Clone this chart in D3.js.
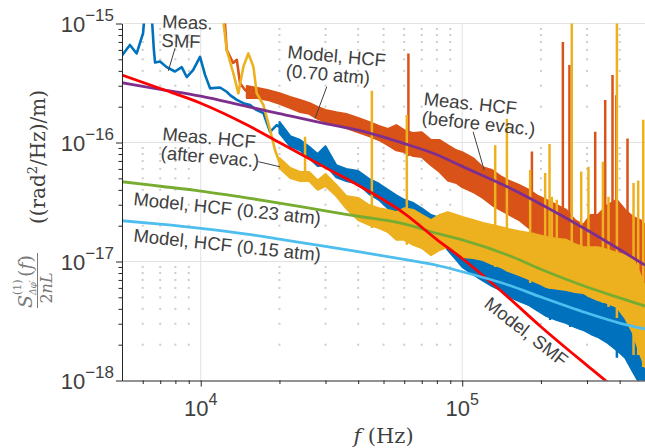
<!DOCTYPE html>
<html>
<head>
<meta charset="utf-8">
<script src="https://cdn.jsdelivr.net/npm/d3@7"></script>
<style>
  html, body { margin: 0; padding: 0; background: #fff; }
  svg { display: block; font-family: "Liberation Sans", Arial, sans-serif; }
</style>
</head>
<body>
<div id="chart"></div>
<script>
// ========== DATA (f in Hz, PSD in (rad^2/Hz)/m) ==========

// model curves
const modelFreq = [5000, 7000, 10000, 15000, 20000, 30000, 40000, 60000, 80000, 100000, 150000, 200000, 300000, 400000, 500000];
const modelSmf  = [3.69e-16, 2.84e-16, 2.14e-16, 1.41e-16, 1.0e-16, 6.15e-17, 4.38e-17, 2.54e-17, 1.53e-17, 1.06e-17, 5.0e-18, 2.83e-18, 1.34e-18, 0.8e-18, 0.55e-18];
const modelHcf070 = [3.18e-16, 2.8e-16, 2.45e-16, 2.01e-16, 1.75e-16, 1.44e-16, 1.27e-16, 9.8e-17, 7.9e-17, 6.3e-17, 4.2e-17, 3.03e-17, 1.84e-17, 1.26e-17, 9.3e-18];
const modelHcf023 = [4.68e-17, 4.29e-17, 3.91e-17, 3.43e-17, 3.1e-17, 2.66e-17, 2.4e-17, 2.07e-17, 1.72e-17, 1.52e-17, 1.13e-17, 8.6e-18, 6.1e-18, 4.95e-18, 4.22e-18];
const modelHcf015 = [2.2e-17, 2.06e-17, 1.9e-17, 1.7e-17, 1.54e-17, 1.34e-17, 1.21e-17, 1.04e-17, 9.3e-18, 8.2e-18, 6.35e-18, 5.03e-18, 3.69e-18, 3.04e-18, 2.71e-18];

// measured spectra, low-frequency part (single trace)
const smfLow = [[5000, 5.4e-16], [5360, 6.6e-16], [5690, 5.6e-16], [6020, 8.3e-16], [6150, 1.5e-15], [6450, 1.5e-15], [6620, 6.0e-16],
  [6690, 4.7e-16], [6990, 4.8e-16], [7410, 4.3e-16], [7970, 3.95e-16], [8460, 4.3e-16], [8840, 3.55e-16], [9350, 4.05e-16],
  [9940, 5.25e-16], [10390, 3.7e-16], [10860, 2.85e-16], [11850, 2.9e-16], [12570, 2.67e-16], [12950, 2.5e-16], [13740, 2.28e-16],
  [14560, 2.14e-16], [15440, 2.07e-16], [16380, 1.87e-16], [17360, 1.77e-16], [18420, 1.23e-16], [19530, 1.4e-16], [20000, 1.35e-16]];
const hcfAfterLow = [[12070, 1.3e-15], [12570, 6.0e-16], [13330, 3.82e-16], [13930, 2.59e-16], [14560, 4.34e-16], [15210, 5.6e-16],
  [15900, 4.34e-16], [16380, 2.59e-16], [17360, 2.07e-16], [18420, 1.27e-16], [19250, 8.6e-17], [20000, 6.8e-17]];
const hcfBeforeLow = [[12280, 1.3e-15], [12570, 6.0e-16], [13300, 4.66e-16], [13740, 4.95e-16], [14140, 3.15e-16], [14780, 2.76e-16],
  [15000, 2.7e-16]];

// measured spectra, high-frequency part (noise band: upper / lower envelope)
const bandFreq = [15000, 16500, 18000, 20000, 22000, 24000, 26000, 28000, 30000, 33000, 36000, 40000, 44000, 48000, 52000, 56000,
  60000, 65000, 70000, 76000, 82000, 88000, 95000, 100000, 110000, 120000, 130000, 140000, 150000, 165000, 180000, 195000, 210000,
  230000, 250000, 270000, 290000, 310000, 330000, 360000, 390000, 420000, 450000, 480000, 500000];
const smfHi = [null, null, null, 1.49e-16, 1.13e-16, 1.05e-16, 9.2e-17, 8.0e-17, 9.3e-17, 6.45e-17, 6.0e-17, 5.75e-17, 4.95e-17,
  4.5e-17, 4.0e-17, 3.6e-17, 3.3e-17, 3.1e-17, 2.8e-17, 2.46e-17, 2.32e-17, 2.03e-17, 1.52e-17, 1.35e-17, 1.2e-17, 1.07e-17,
  9.9e-18, 9.0e-18, 8.3e-18, 7.7e-18, 7.1e-18, 6.6e-18, 6.1e-18, 5.9e-18, 5.65e-18, 5.55e-18, 5.33e-18, 5.03e-18, 4.75e-18,
  4.3e-18, 4.06e-18, 3.62e-18, 3.1e-18, 1.99e-18, 1.49e-18];
const smfLo = [null, null, null, 1.2e-16, 9.3e-17, 8.6e-17, 7.4e-17, 6.35e-17, 6.45e-17, 5.1e-17, 4.75e-17, 4.5e-17, 3.7e-17,
  3.3e-17, 2.8e-17, 2.5e-17, 2.28e-17, 2.07e-17, 1.91e-17, 1.77e-17, 1.52e-17, 1.25e-17, 1.03e-17, 9.0e-18, 7.8e-18, 6.9e-18,
  6.2e-18, 5.75e-18, 5.1e-18, 4.66e-18, 4.3e-18, 3.84e-18, 3.48e-18, 3.22e-18, 3.04e-18, 2.81e-18, 2.66e-18, 2.46e-18, 2.32e-18,
  2.07e-18, 1.8e-18, 1.55e-18, 1.18e-18, 0.92e-18, 0.83e-18];
const hcfAfterHi = [null, null, null, 7.4e-17, 6.1e-17, 5.65e-17, 5.65e-17, 4.8e-17, 5.44e-17, 4.4e-17, 3.55e-17, 3.42e-17,
  2.98e-17, 2.8e-17, 2.71e-17, 2.6e-17, 2.8e-17, 2.71e-17, 2.46e-17, 2.23e-17, 2.46e-17, 2.6e-17, 2.46e-17, 2.37e-17, 2.23e-17,
  2.11e-17, 2.03e-17, 1.95e-17, 1.88e-17, 1.8e-17, 1.74e-17, 1.67e-17, 1.61e-17, 1.55e-17, 1.52e-17, 1.4e-17, 1.32e-17,
  1.32e-17, 1.32e-17, 1.25e-17, 1.18e-17, 1.13e-17, 1.07e-17, 7.7e-18, 6.1e-18];
const hcfAfterLo = [null, null, null, 6.1e-17, 5.03e-17, 4.75e-17, 4.75e-17, 4.0e-17, 4.3e-17, 3.55e-17, 2.8e-17, 2.23e-17,
  2.03e-17, 1.91e-17, 1.77e-17, 1.52e-17, 1.52e-17, 1.38e-17, 1.3e-17, 1.13e-17, 1.25e-17, 1.32e-17, 1.2e-17, 1.09e-17, 1.07e-17,
  1.03e-17, 9.5e-18, 9.0e-18, 8.3e-18, 7.7e-18, 7.1e-18, 6.6e-18, 6.1e-18, 5.9e-18, 5.75e-18, 5.55e-18, 5.44e-18, 5.03e-18,
  4.75e-18, 4.48e-18, 4.15e-18, 3.35e-18, 2.5e-18, 1.64e-18, 1.3e-18];
const hcfBeforeHi = [2.98e-16, 2.87e-16, 2.76e-16, 2.6e-16, 2.41e-16, 2.28e-16, 2.15e-16, 1.99e-16, 1.88e-16, 1.8e-16, 1.74e-16,
  1.61e-16, 1.49e-16, 1.38e-16, 1.3e-16, 1.4e-16, 1.27e-16, 1.2e-16, 1.22e-16, 1.05e-16, 1.05e-16, 9.5e-17, 8.6e-17, 8.3e-17,
  7.4e-17, 6.2e-17, 5.88e-17, 5.23e-17, 4.8e-17, 4.4e-17, 4.0e-17, 3.55e-17, 3.3e-17, 2.98e-17, 2.71e-17, 2.23e-17, 2.03e-17,
  2.46e-17, 2.46e-17, 2.98e-17, 3.3e-17, 2.71e-17, 2.37e-17, 2.23e-17, 2.03e-17];
const hcfBeforeLo = [2.37e-16, 2.37e-16, 2.28e-16, 2.11e-16, 1.95e-16, 1.8e-16, 1.74e-16, 1.58e-16, 1.49e-16, 1.4e-16, 1.32e-16,
  1.22e-16, 1.13e-16, 1.05e-16, 9.5e-17, 8.6e-17, 8.3e-17, 7.7e-17, 7.55e-17, 6.45e-17, 5.65e-17, 4.8e-17, 4.57e-17, 4.22e-17,
  3.84e-17, 3.42e-17, 2.98e-17, 2.71e-17, 2.5e-17, 2.23e-17, 1.91e-17, 1.67e-17, 1.52e-17, 1.38e-17, 1.25e-17, 1.13e-17,
  1.07e-17, 9.9e-18, 9.2e-18, 8.45e-18, 8.0e-18, 7.55e-18, 7.4e-18, 6.95e-18, 6.35e-18];

// narrow peaks sticking out of the noise band: [f, peak value]
const smfSpikes = [[216800, 7.4e-18], [258700, 9.0e-18], [390400, 5.4e-18]];
const hcfAfterSpikes = [[25060, 1.12e-16], [45130, 2.72e-16], [61400, 1.7e-16], [133700, 9.5e-17], [148200, 1.58e-16],
  [181900, 5.88e-17], [207600, 5.55e-17], [215700, 9.7e-17], [220200, 3.5e-17], [230000, 3.3e-17], [262400, 1.3e-15],
  [285100, 5.7e-17], [303900, 6.25e-17], [345200, 6.9e-17], [362500, 3.5e-17], [390400, 1.3e-15], [452000, 4.57e-17],
  [471000, 4.8e-17], [492300, 1.55e-16]];
const hcfBeforeSpikes = [[62260, 5.6e-16], [184700, 8.4e-17], [242600, 7.0e-16], [257100, 4.48e-16], [322500, 1.23e-16],
  [352200, 2.28e-16], [375600, 3.69e-16], [388100, 2.5e-16], [428600, 1.08e-16]];

// axis ticks
const xMajor = [1e4, 1e5];
const xMinor = [6e3, 7e3, 8e3, 9e3, 2e4, 3e4, 4e4, 5e4, 6e4, 7e4, 8e4, 9e4, 2e5, 3e5, 4e5];
const xMajorExp = ['4', '5'];
const yMajor = [1e-18, 1e-17, 1e-16, 1e-15];
const yMajorExp = ['\u221218', '\u221217', '\u221216', '\u221215'];
const yMinor = [-18, -17, -16].flatMap(k => [2, 3, 4, 5, 6, 7, 8, 9].map(m => m * Math.pow(10, k)));

// text annotations, anchored in data coordinates
const notes = [
  { lines: ['Meas.', 'SMF'], f: 7110, s: 9.2e-16, rot: 2 },
  { lines: ['Model, HCF', '(0.70 atm)'], f: 21390, s: 5.12e-16, rot: 5 },
  { lines: ['Meas. HCF', '(before evac.)'], f: 70900, s: 2.07e-16, rot: 6 },
  { lines: ['Meas. HCF', '(after evac.)'], f: 7110, s: 1.05e-16, rot: 5 },
  { lines: ['Model, HCF (0.23 atm)'], f: 5510, s: 2.98e-17, rot: 6 },
  { lines: ['Model, HCF (0.15 atm)'], f: 5510, s: 1.47e-17, rot: 6 },
  { lines: ['Model, SMF'], f: 120200, s: 4.22e-18, rot: 38 }
];
const pointers = [
  [[7975, 6.2e-16], [7520, 4.0e-16]],
  [[30340, 2.94e-16], [27370, 1.6e-16]],
  [[110100, 1.23e-16], [121300, 5.88e-17]],
  [[16610, 6.9e-17], [20100, 6.25e-17]]
];

// ========== CHART ==========

const W = 645, H = 448;
const plot = { left: 122, right: 645, top: 23.5, bottom: 380.5 };
const textColor = '#404040';

const svg = d3.select('#chart').append('svg').attr('width', W).attr('height', H);

const x = d3.scaleLog().domain([5e3, 5e5]).range([plot.left, plot.right]);
const y = d3.scaleLog().domain([1e-18, 1e-15]).range([plot.bottom, plot.top]);

svg.append('defs').append('clipPath').attr('id', 'clip')
  .append('rect').attr('x', plot.left).attr('y', plot.top)
  .attr('width', plot.right - plot.left).attr('height', plot.bottom - plot.top);

// Grid
const grid = svg.append('g');
grid.selectAll('.gx').data(xMajor).enter().append('line')
  .attr('x1', d => x(d)).attr('x2', d => x(d)).attr('y1', plot.top).attr('y2', plot.bottom)
  .attr('stroke', '#e2e2e2').attr('stroke-width', 1);
grid.selectAll('.gy').data(yMajor.slice(1)).enter().append('line')
  .attr('x1', plot.left).attr('x2', plot.right).attr('y1', d => y(d)).attr('y2', d => y(d))
  .attr('stroke', '#e2e2e2').attr('stroke-width', 1);
const dots = xMinor.flatMap(fx => yMinor.map(sy => [fx, sy]));
grid.selectAll('.dot').data(dots).enter().append('rect')
  .attr('x', d => x(d[0]) - 1).attr('y', d => y(d[1]) - 1)
  .attr('width', 2).attr('height', 2).attr('fill', '#cdcdcd');

// Measured spectra
const g = svg.append('g').attr('clip-path', 'url(#clip)');
const line = d3.line().x(d => x(d[0])).y(d => y(d[1]));
const curve = d3.line().x(d => x(d[0])).y(d => y(d[1])).curve(d3.curveMonotoneX);
const area = d3.area().defined(d => d.hi != null)
  .x(d => x(d.f)).y0(d => y(d.lo)).y1(d => y(d.hi));

function drawMeasured(low, hi, lo, spikes, color) {
  const rows = bandFreq.map((f, i) => ({ f, hi: hi[i], lo: lo[i] }));
  const band = rows.filter(d => d.hi != null);
  g.append('path').datum(low).attr('fill', 'none').attr('stroke', color)
    .attr('stroke-width', 2.6).attr('stroke-linejoin', 'round').attr('d', line);
  g.append('path').datum(band).attr('fill', color).attr('stroke', color)
    .attr('stroke-width', 2).attr('stroke-linejoin', 'round').attr('d', area);
  const baseAt = f => {
    const i = Math.min(d3.bisector(d => d.f).left(band, f), band.length - 1);
    return band[i].lo;
  };
  g.selectAll(null).data(spikes).enter().append('line')
    .attr('x1', d => x(d[0])).attr('x2', d => x(d[0]))
    .attr('y1', d => y(baseAt(d[0]))).attr('y2', d => y(d[1]))
    .attr('stroke', color).attr('stroke-width', 2.5);
}

drawMeasured(smfLow, smfHi, smfLo, smfSpikes, '#0072BD');
drawMeasured(hcfBeforeLow, hcfBeforeHi, hcfBeforeLo, hcfBeforeSpikes, '#D95319');
drawMeasured(hcfAfterLow, hcfAfterHi, hcfAfterLo, hcfAfterSpikes, '#EDB120');

// Model curves
[[modelHcf070, '#7E2F8E'], [modelHcf023, '#77AC30'], [modelSmf, '#FF0000'], [modelHcf015, '#4DBEEE']].forEach(([vals, color]) => {
  g.append('path').datum(modelFreq.map((f, i) => [f, vals[i]]))
    .attr('fill', 'none').attr('stroke', color).attr('stroke-width', 2.8).attr('d', curve);
});

// Axes
const axisColor = '#262626';
const xAxis = svg.append('g').attr('transform', `translate(0,${plot.bottom})`);
xAxis.call(d3.axisBottom(x).tickValues(xMinor).tickSize(3.5).tickSizeOuter(0).tickFormat(''));
xAxis.append('g').call(d3.axisBottom(x).tickValues(xMajor).tickSize(6).tickSizeOuter(0).tickFormat(''));
const yAxis = svg.append('g').attr('transform', `translate(${plot.left},0)`);
yAxis.call(d3.axisLeft(y).tickValues(yMinor).tickSize(3.5).tickSizeOuter(0).tickFormat(''));
yAxis.append('g').call(d3.axisLeft(y).tickValues(yMajor).tickSize(6).tickSizeOuter(0).tickFormat(''));
svg.selectAll('.domain').attr('stroke', axisColor);
svg.selectAll('.tick line').attr('stroke', axisColor);
svg.selectAll('g g .domain').remove();

// Tick labels with superscript exponents
xMajor.forEach((v, i) => {
  const t = svg.append('text').attr('x', x(v)).attr('y', plot.bottom + 35)
    .attr('text-anchor', 'middle').attr('fill', textColor).style('font-size', '22px');
  t.append('tspan').text('10');
  t.append('tspan').attr('dy', -11).style('font-size', '16px').text(xMajorExp[i]);
});
yMajor.forEach((v, i) => {
  const t = svg.append('text').attr('x', plot.left - 8).attr('y', y(v) + 8)
    .attr('text-anchor', 'end').attr('fill', textColor).style('font-size', '22px');
  t.append('tspan').text('10');
  t.append('tspan').attr('dy', -11).style('font-size', '17px').text(yMajorExp[i]);
});

// Axis titles
const serif = '"DejaVu Serif", "Liberation Serif", serif';
const xt = svg.append('text').attr('x', (plot.left + plot.right) / 2).attr('y', 443)
  .attr('text-anchor', 'middle').attr('fill', textColor)
  .style('font-family', serif).style('font-size', '21px');
xt.append('tspan').style('font-style', 'italic').text('f');
xt.append('tspan').text(' (Hz)');

// y title: rotated fraction + units, each piece placed in the rotated frame
const rot = (a, b) => `translate(${b},${-a}) rotate(-90)`;
const fracColor = '#7a7a7a';
const units = svg.append('text').attr('transform', rot(-157, 45)).attr('text-anchor', 'middle')
  .attr('fill', textColor).style('font-family', serif).style('font-size', '20px');
units.append('tspan').text('((rad');
units.append('tspan').attr('dy', -8).style('font-size', '13px').text('2');
units.append('tspan').attr('dy', 8).text('/Hz)/m)');
svg.append('text').attr('transform', rot(-308, 32)).attr('fill', fracColor)
  .style('font-family', serif).style('font-size', '19px').style('font-style', 'italic').text('S');
svg.append('text').attr('transform', rot(-295, 21)).attr('fill', fracColor)
  .style('font-family', serif).style('font-size', '11px').text('(1)');
svg.append('text').attr('transform', rot(-295, 36)).attr('fill', fracColor)
  .style('font-family', serif).style('font-size', '9px').style('font-style', 'italic').text('\u0394\u03c6\u2032');
const fp = svg.append('text').attr('transform', rot(-277, 32)).attr('fill', fracColor)
  .style('font-family', serif).style('font-size', '19px');
fp.append('tspan').text('(');
fp.append('tspan').style('font-style', 'italic').text('f');
fp.append('tspan').text(')');
svg.append('line').attr('x1', 37.5).attr('x2', 37.5).attr('y1', 253).attr('y2', 308)
  .attr('stroke', fracColor).attr('stroke-width', 1);
const den = svg.append('text').attr('transform', rot(-288, 52)).attr('text-anchor', 'middle')
  .attr('fill', fracColor).style('font-family', serif).style('font-size', '16px');
den.append('tspan').text('2');
den.append('tspan').style('font-style', 'italic').text('nL');

// Annotations
pointers.forEach(p => {
  svg.append('line').attr('x1', x(p[0][0])).attr('y1', y(p[0][1]))
    .attr('x2', x(p[1][0])).attr('y2', y(p[1][1]))
    .attr('stroke', textColor).attr('stroke-width', 1);
});
notes.forEach(n => {
  const t = svg.append('text')
    .attr('transform', `translate(${x(n.f)},${y(n.s)}) rotate(${n.rot})`)
    .attr('fill', textColor).style('font-size', '18.5px');
  n.lines.forEach((ln, i) => t.append('tspan').attr('x', 0).attr('dy', i ? 19 : 0).text(ln));
});
</script>
</body>
</html>
